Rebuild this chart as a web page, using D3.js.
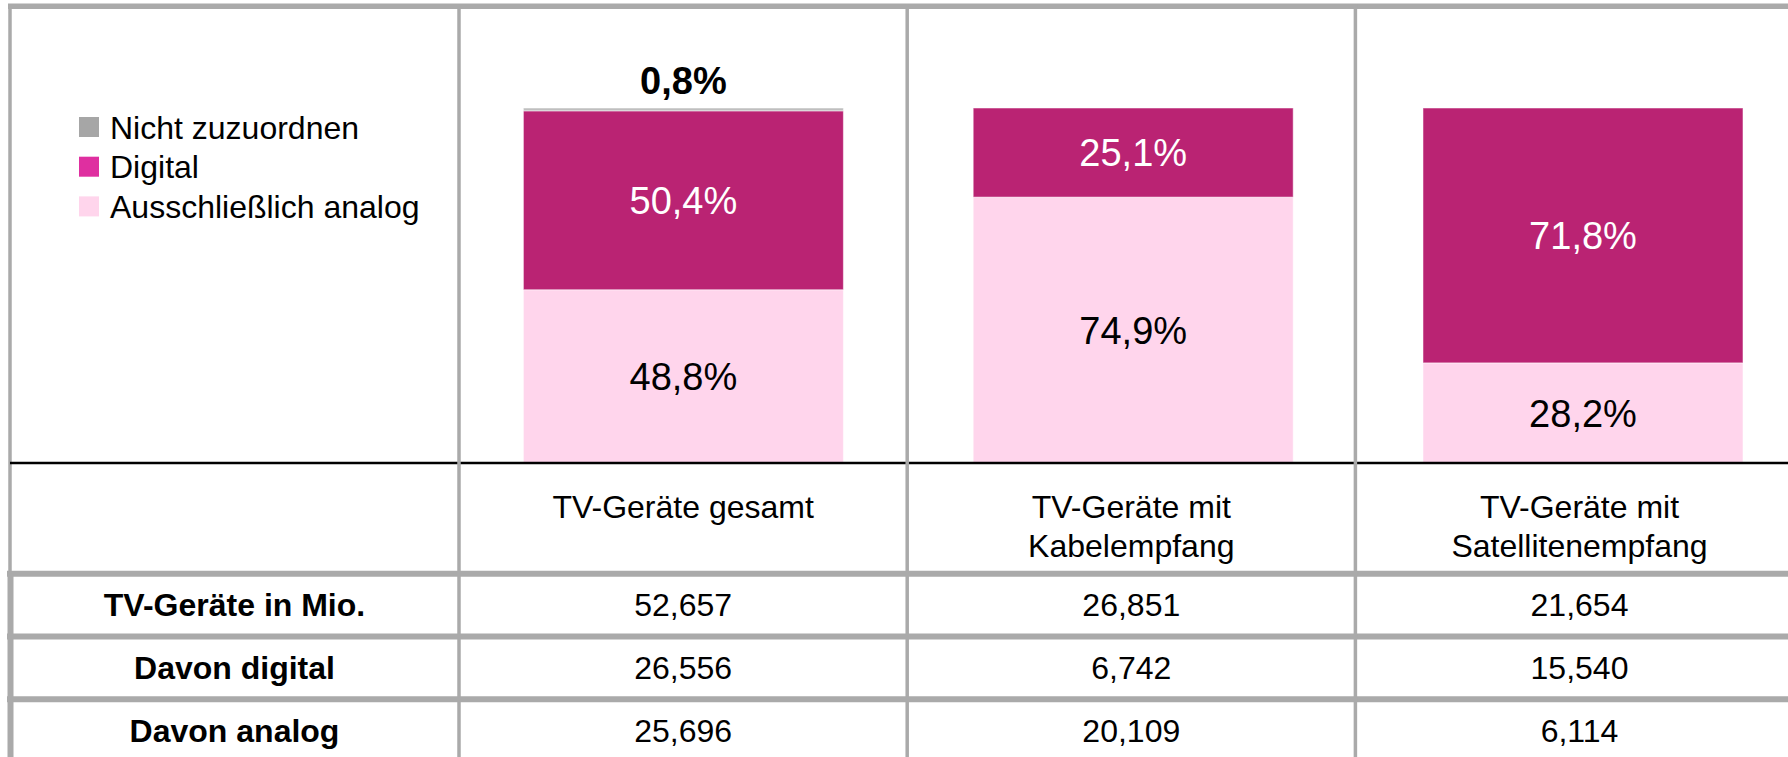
<!DOCTYPE html>
<html>
<head>
<meta charset="utf-8">
<script src="https://cdn.jsdelivr.net/npm/d3@7"></script>
<style>
  body { margin: 0; background: #fff; }
  text { font-family: "Liberation Sans", Arial, sans-serif; }
</style>
</head>
<body>
<div class="canvas"></div>
<script>
// data
const categories = ["gesamt", "kabel", "satellit"];
const categoryLabels = [["TV-Geräte gesamt"], ["TV-Geräte mit", "Kabelempfang"], ["TV-Geräte mit", "Satellitenempfang"]];
const seriesNames = ["Ausschließlich analog", "Digital", "Nicht zuzuordnen"];
const analogShare = [48.8, 74.9, 28.2];
const digitalShare = [50.4, 25.1, 71.8];
const unknownShare = [0.8, 0, 0];
const rowLabels = ["TV-Geräte in Mio.", "Davon digital", "Davon analog"];
const devicesTotal = [52.657, 26.851, 21.654];
const devicesDigital = [26.556, 6.742, 15.540];
const devicesAnalog = [25.696, 20.109, 6.114];

const dims = { width: 1788, height: 757 };
const gridColor = "#aaaaaa";

const de = d3.formatLocale({ decimal: ",", thousands: ".", grouping: [3], currency: ["", " €"] });
const fmtPct = de.format(".1f");
const fmtMio = de.format(".3f");

const svg = d3
  .select(".canvas")
  .append("svg")
  .attr("width", dims.width)
  .attr("height", dims.height);

// table columns + bar positions
const col = d3.scaleBand().domain(categories).range([459, 459 + 3 * 448.2]);
const barStep = 449.8;
const x = d3
  .scaleBand()
  .domain(categories)
  .range([459.3, 459.3 + barStep * (3 - 0.2886 + 2 * 0.1425)])
  .paddingInner(0.2886)
  .paddingOuter(0.1425);
const y = d3.scaleLinear().domain([0, 100]).range([463, 108]);

const color = d3
  .scaleOrdinal()
  .domain(seriesNames)
  .range(["#ffd5ec", "#ba2373", "#bfbfbf"]);
const legendColor = d3
  .scaleOrdinal()
  .domain(seriesNames)
  .range(["#ffd5ec", "#df2fa0", "#a6a6a6"]);

const table = categories.map((c, i) => ({
  cat: c,
  [seriesNames[0]]: analogShare[i],
  [seriesNames[1]]: digitalShare[i],
  [seriesNames[2]]: unknownShare[i],
}));

const stack = d3.stack().keys(seriesNames);
const layers = stack(table);

// bars
const graph = svg.append("g");

const layer = graph
  .selectAll("g.layer")
  .data(layers)
  .enter()
  .append("g")
  .attr("class", "layer")
  .attr("fill", (d) => color(d.key));

layer
  .selectAll("rect")
  .data((d) => d.filter((s) => s[1] - s[0] > 0))
  .enter()
  .append("rect")
  .attr("x", (d) => x(d.data.cat))
  .attr("width", x.bandwidth())
  .attr("y", (d) => y(d[1]))
  .attr("height", (d) => y(d[0]) - y(d[1]))
  .attr("stroke", "#fff")
  .attr("stroke-opacity", 0.5)
  .attr("stroke-width", 1);

// segment labels (inside for analog / digital)
layers.slice(0, 2).forEach((l) => {
  graph
    .append("g")
    .selectAll("text")
    .data(l.filter((s) => s[1] - s[0] > 0))
    .enter()
    .append("text")
    .attr("x", (d) => x(d.data.cat) + x.bandwidth() / 2)
    .attr("y", (d) => (y(d[0]) + y(d[1])) / 2)
    .attr("dy", "0.36em")
    .attr("text-anchor", "middle")
    .attr("font-size", 38)
    .attr("fill", l.key === "Digital" ? "#fff" : "#000")
    .text((d) => fmtPct(d[1] - d[0]) + "%");
});

// small share on top, bold label above
const topLayer = layers[2];
graph
  .append("g")
  .selectAll("text")
  .data(topLayer.filter((s) => s[1] - s[0] > 0))
  .enter()
  .append("text")
  .attr("x", (d) => x(d.data.cat) + x.bandwidth() / 2)
  .attr("y", (d) => y(d[1]) - 14)
  .attr("text-anchor", "middle")
  .attr("font-size", 38)
  .attr("font-weight", "bold")
  .attr("fill", "#000")
  .text((d) => fmtPct(d[1] - d[0]) + "%");

// legend
const legendGroup = svg.append("g").attr("transform", "translate(79, 117)");
const legendItems = seriesNames.slice().reverse();

legendGroup
  .selectAll("rect")
  .data(legendItems)
  .enter()
  .append("rect")
  .attr("x", 0)
  .attr("y", (d, i) => i * 39.7)
  .attr("width", 20)
  .attr("height", 20)
  .attr("fill", (d) => legendColor(d));

legendGroup
  .selectAll("text")
  .data(legendItems)
  .enter()
  .append("text")
  .attr("x", 31)
  .attr("y", (d, i) => i * 39.7 + 21.5)
  .attr("font-size", 32)
  .attr("fill", "#000")
  .text((d) => d);

// table header (category names)
const header = svg
  .append("g")
  .selectAll("text")
  .data(categories)
  .enter()
  .append("text")
  .attr("x", (d) => col(d) + col.bandwidth() / 2)
  .attr("y", 518.3)
  .attr("text-anchor", "middle")
  .attr("font-size", 32)
  .attr("fill", "#000");

header
  .selectAll("tspan")
  .data((d, i) => categoryLabels[i])
  .enter()
  .append("tspan")
  .attr("x", function () {
    return this.parentNode.getAttribute("x");
  })
  .attr("dy", (d, i) => (i === 0 ? 0 : 38.4))
  .text((d) => d);

// table rows
const rowValues = [devicesTotal, devicesDigital, devicesAnalog];
const rowY = d3.scaleBand().domain(rowLabels).range([573.7, 573.7 + 3 * 62.8]);

const rows = svg
  .append("g")
  .selectAll("g.row")
  .data(rowLabels)
  .enter()
  .append("g")
  .attr("class", "row")
  .attr("transform", (d) => `translate(0, ${rowY(d) + rowY.bandwidth() / 2})`);

rows
  .append("text")
  .attr("x", 234.5)
  .attr("dy", "0.35em")
  .attr("text-anchor", "middle")
  .attr("font-size", 32)
  .attr("font-weight", "bold")
  .attr("fill", "#000")
  .text((d) => d);

rows
  .selectAll("text.val")
  .data((d, i) => rowValues[i].map((v, j) => ({ cat: categories[j], v: v })))
  .enter()
  .append("text")
  .attr("class", "val")
  .attr("x", (d) => col(d.cat) + col.bandwidth() / 2)
  .attr("dy", "0.35em")
  .attr("text-anchor", "middle")
  .attr("font-size", 32)
  .attr("fill", "#000")
  .text((d) => fmtMio(d.v));

// grid lines
const grid = svg.append("g");

grid
  .append("line")
  .attr("x1", 8)
  .attr("x2", dims.width)
  .attr("y1", 6.3)
  .attr("y2", 6.3)
  .attr("stroke", gridColor)
  .attr("stroke-width", 5.5);

grid
  .append("line")
  .attr("x1", 10)
  .attr("x2", 10)
  .attr("y1", 4)
  .attr("y2", 571)
  .attr("stroke", gridColor)
  .attr("stroke-width", 3.5);

grid
  .append("line")
  .attr("x1", 10.5)
  .attr("x2", 10.5)
  .attr("y1", 571)
  .attr("y2", dims.height)
  .attr("stroke", gridColor)
  .attr("stroke-width", 6);

grid
  .append("line")
  .attr("x1", 10)
  .attr("x2", dims.width)
  .attr("y1", 463)
  .attr("y2", 463)
  .attr("stroke", "#000")
  .attr("stroke-width", 2.5);

grid
  .selectAll("line.rowline")
  .data(rowLabels)
  .enter()
  .append("line")
  .attr("class", "rowline")
  .attr("x1", 7)
  .attr("x2", dims.width)
  .attr("y1", (d) => rowY(d))
  .attr("y2", (d) => rowY(d))
  .attr("stroke", gridColor)
  .attr("stroke-width", 6);

grid
  .selectAll("line.colline")
  .data(categories)
  .enter()
  .append("line")
  .attr("class", "colline")
  .attr("x1", (d) => col(d))
  .attr("x2", (d) => col(d))
  .attr("y1", 4)
  .attr("y2", dims.height)
  .attr("stroke", gridColor)
  .attr("stroke-width", 3.5);
</script>
</body>
</html>
